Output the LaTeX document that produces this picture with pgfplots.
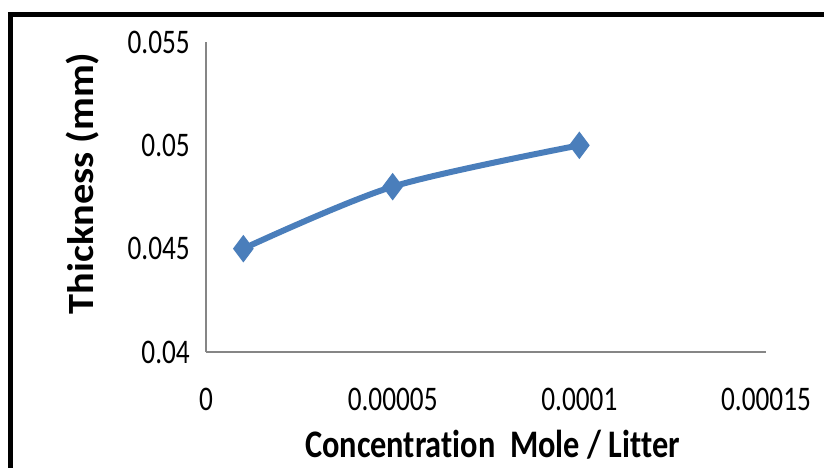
\documentclass[border=0pt]{standalone}
\usepackage{pgfplots}
\pgfplotsset{compat=1.18}
\usepackage{fontspec}
\setmainfont{Carlito}
\newfontfamily\tickfont{Carlito}[FakeStretch=0.79]
\newfontfamily\xlabfont{Carlito}[FakeStretch=0.83,Ligatures=NoCommon]
\newfontfamily\ylabfont{Carlito}[FakeStretch=1.09,Ligatures=NoCommon]
\definecolor{xlblue}{RGB}{74,126,187}
\definecolor{axgray}{RGB}{134,134,134}
\begin{document}
\begin{tikzpicture}[x=1bp,y=1bp]
\path[use as bounding box] (0,0) rectangle (824,468);
\draw[line width=5.5bp] (10.5,0) -- (10.5,456.25);
\draw[line width=5.5bp] (7.75,453.5) -- (824,453.5);
\begin{axis}[
 at={(206bp,116bp)}, anchor=south west,
 scale only axis, width=560bp, height=310bp,
 xmin=0, xmax=0.00015, ymin=0.04, ymax=0.055,
 axis x line=bottom, axis y line=left,
 axis line style={axgray, line width=1.2bp, -},
 xtick={0,0.00005,0.0001,0.00015},
 xticklabels={0,0.00005,0.0001,0.00015},
 ytick={0.04,0.045,0.05,0.055},
 yticklabels={0.04,0.045,0.05,0.055},
 major tick length=0pt,
 scaled x ticks=false, scaled y ticks=false,
 tick label style={font=\fontsize{34.5bp}{34.5bp}\tickfont},
 xticklabel style={anchor=north, inner sep=0pt, yshift=-36bp},
 yticklabel style={anchor=east, inner sep=0pt, xshift=-16bp},
 clip=false,
]
\addplot[xlblue, line width=6bp, smooth, mark=diamond*, mark size=13bp,
  mark options={solid, fill=xlblue, draw=xlblue, line width=1bp}]
  coordinates {(0.00001,0.045) (0.00005,0.048) (0.0001,0.05)};
\end{axis}
\node[anchor=north, inner sep=0pt, font=\fontsize{39bp}{39bp}\xlabfont\bfseries] at (492.5,38) {Concentration\ \ Mole / Litter};
\node[rotate=90, anchor=base, inner sep=0pt, font=\fontsize{37bp}{37bp}\ylabfont\bfseries] at (93,284.5) {Thickness (mm)};
\end{tikzpicture}
\end{document}
